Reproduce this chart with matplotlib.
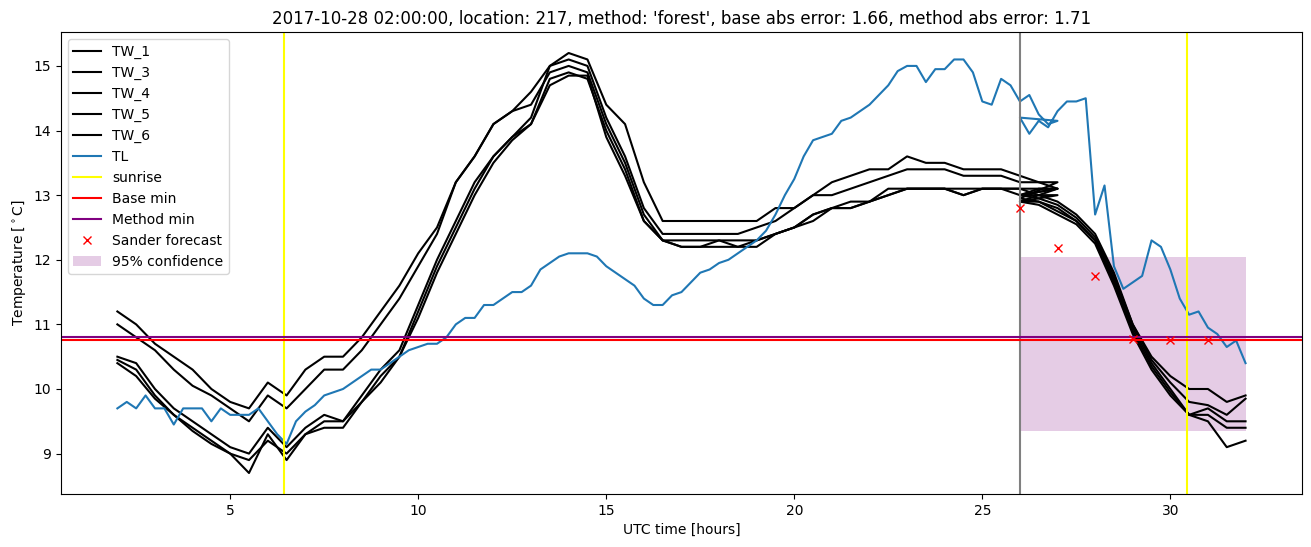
import numpy as np
import matplotlib
matplotlib.use("Agg")
import matplotlib.pyplot as plt

# ---------------- data ----------------
hist_hours_tw = np.arange(2.0, 27.01, 0.5)
fut_hours_tw = np.arange(26.0, 32.01, 0.5)
hist_hours_tl = np.arange(2.0, 27.01, 0.25)
fut_hours_tl = np.arange(26.0, 32.01, 0.25)

tw_labels = ["TW_1", "TW_3", "TW_4", "TW_5", "TW_6"]

tw1_hist = [11.2, 11.0, 10.7, 10.5, 10.3, 10.0, 9.8, 9.7, 10.1, 9.9,
            10.3, 10.5, 10.5, 10.8, 11.2, 11.6, 12.1, 12.5, 13.2, 13.6,
            14.1, 14.3, 14.6, 15.0, 15.1, 15.0, 14.2, 13.6, 12.8, 12.4,
            12.4, 12.4, 12.4, 12.4, 12.5, 12.6, 12.8, 13.0, 13.0, 13.1,
            13.2, 13.3, 13.4, 13.4, 13.4, 13.3, 13.3, 13.3, 13.2, 13.2,
            13.1]
tw3_hist = [11.0, 10.8, 10.6, 10.3, 10.05, 9.9, 9.7, 9.5, 9.9, 9.7,
            10.0, 10.3, 10.3, 10.6, 11.0, 11.4, 11.9, 12.4, 13.2, 13.6,
            14.1, 14.3, 14.4, 14.9, 15.0, 14.9, 14.1, 13.5, 12.7, 12.3,
            12.3, 12.3, 12.3, 12.3, 12.3, 12.4, 12.5, 12.7, 12.8, 12.8,
            12.9, 13.0, 13.1, 13.1, 13.1, 13.0, 13.1, 13.1, 13.1, 13.1,
            13.1]
tw4_hist = [10.5, 10.4, 10.0, 9.7, 9.5, 9.3, 9.1, 9.0, 9.4, 9.1,
            9.4, 9.6, 9.5, 9.9, 10.3, 10.6, 11.3, 12.0, 12.6, 13.2,
            13.6, 13.9, 14.2, 15.0, 15.2, 15.1, 14.4, 14.1, 13.2, 12.6,
            12.6, 12.6, 12.6, 12.6, 12.6, 12.8, 12.8, 13.0, 13.2, 13.3,
            13.4, 13.4, 13.6, 13.5, 13.5, 13.4, 13.4, 13.4, 13.3, 13.2,
            13.2]
tw5_hist = [10.45, 10.3, 9.9, 9.6, 9.4, 9.2, 9.0, 8.7, 9.3, 8.9,
            9.3, 9.4, 9.4, 9.8, 10.2, 10.5, 11.2, 11.9, 12.5, 13.1,
            13.6, 13.9, 14.1, 14.8, 14.9, 14.8, 14.0, 13.4, 12.6, 12.3,
            12.2, 12.2, 12.2, 12.2, 12.2, 12.4, 12.5, 12.6, 12.8, 12.8,
            12.9, 13.0, 13.1, 13.1, 13.1, 13.0, 13.1, 13.1, 13.1, 13.0,
            13.0]
tw6_hist = [10.4, 10.2, 9.85, 9.6, 9.35, 9.15, 9.0, 8.9, 9.2, 9.0,
            9.3, 9.5, 9.5, 9.8, 10.1, 10.5, 11.1, 11.8, 12.4, 13.0,
            13.5, 13.85, 14.1, 14.7, 14.85, 14.85, 13.9, 13.3, 12.6, 12.3,
            12.2, 12.2, 12.3, 12.2, 12.3, 12.4, 12.5, 12.7, 12.8, 12.9,
            12.9, 13.1, 13.1, 13.1, 13.1, 13.1, 13.1, 13.1, 13.0, 13.1,
            13.1]

tw1_fut = [13.0, 13.0, 12.9, 12.7, 12.4, 11.8, 11.0, 10.5, 10.2, 10.0, 10.0, 9.8, 9.9]
tw3_fut = [13.0, 12.95, 12.85, 12.65, 12.35, 11.75, 11.0, 10.45, 10.1, 9.8, 9.75, 9.6, 9.85]
tw4_fut = [12.95, 12.9, 12.8, 12.6, 12.3, 11.7, 10.95, 10.4, 10.0, 9.6, 9.7, 9.5, 9.5]
tw5_fut = [12.9, 12.9, 12.75, 12.6, 12.3, 11.65, 10.9, 10.35, 9.95, 9.6, 9.6, 9.4, 9.4]
tw6_fut = [12.9, 12.85, 12.7, 12.55, 12.25, 11.6, 10.85, 10.3, 9.9, 9.6, 9.5, 9.1, 9.2]

tl_hist = [9.7, 9.8, 9.7, 9.9, 9.7, 9.7, 9.45, 9.7, 9.7, 9.7,
           9.5, 9.7, 9.6, 9.6, 9.6, 9.7, 9.5, 9.3, 9.15, 9.5,
           9.65, 9.75, 9.9, 9.95, 10.0, 10.1, 10.2, 10.3, 10.3, 10.4,
           10.5, 10.6, 10.65, 10.7, 10.7, 10.8, 11.0, 11.1, 11.1, 11.3,
           11.3, 11.4, 11.5, 11.5, 11.6, 11.85, 11.95, 12.05, 12.1, 12.1,
           12.1, 12.05, 11.9, 11.8, 11.7, 11.6, 11.4, 11.3, 11.3, 11.45,
           11.5, 11.65, 11.8, 11.85, 11.95, 12.0, 12.1, 12.2, 12.3, 12.45,
           12.7, 13.0, 13.25, 13.6, 13.85, 13.9, 13.95, 14.15, 14.2, 14.3,
           14.4, 14.55, 14.7, 14.92, 15.0, 15.0, 14.75, 14.95, 14.95, 15.1,
           15.1, 14.9, 14.45, 14.4, 14.8, 14.7, 14.45, 14.55, 14.25, 14.1,
           14.15]
tl_fut = [14.2, 13.95, 14.15, 14.05, 14.3, 14.45, 14.45, 14.5, 12.7, 13.15,
          11.9, 11.55, 11.65, 11.75, 12.3, 12.2, 11.85, 11.4, 11.15, 11.2,
          10.95, 10.85, 10.65, 10.75, 10.4]

sunrise_hours = [6.43, 30.43]
forecast_start = 26.0
base_min = 10.76
method_min = 10.81
sander_hours = [26, 27, 28, 29, 30, 31]
sander_values = [12.8, 12.18, 11.75, 10.78, 10.76, 10.76]
conf_hours = [26.0, 32.0]
conf_low = 9.35
conf_high = 12.05

title = ("2017-10-28 02:00:00, location: 217, method: 'forest', "
         "base abs error: 1.66, method abs error: 1.71")

# ---------------- plot ----------------
fig = plt.figure(figsize=(13.11, 5.47), dpi=100)
ax = fig.add_axes([0.0465, 0.0969, 0.9466, 0.8446])

tw_hist = [tw1_hist, tw3_hist, tw4_hist, tw5_hist, tw6_hist]
tw_fut = [tw1_fut, tw3_fut, tw4_fut, tw5_fut, tw6_fut]
for lab, h, f in zip(tw_labels, tw_hist, tw_fut):
    x = np.concatenate([hist_hours_tw, fut_hours_tw])
    y = np.concatenate([h, f])
    ax.plot(x, y, color="black", label=lab)

x_tl = np.concatenate([hist_hours_tl, fut_hours_tl])
y_tl = np.concatenate([tl_hist, tl_fut])
ax.plot(x_tl, y_tl, color="#1f77b4", label="TL")

for i, s in enumerate(sunrise_hours):
    ax.axvline(s, color="yellow", label="sunrise" if i == 0 else None)
ax.axvline(forecast_start, color="grey")
ax.axhline(base_min, color="red", label="Base min")
ax.axhline(method_min, color="purple", label="Method min")
ax.plot(sander_hours, sander_values, "rx", label="Sander forecast")
ax.fill_between(conf_hours, [conf_low] * 2, [conf_high] * 2,
                color="purple", alpha=0.2, linewidth=0, label="95% confidence")

ax.set_title(title)
ax.set_xlabel("UTC time [hours]")
ax.set_ylabel(r"Temperature [$^\circ$C]")
ax.legend(loc="upper left")

fig.savefig("out.png", dpi=100)
